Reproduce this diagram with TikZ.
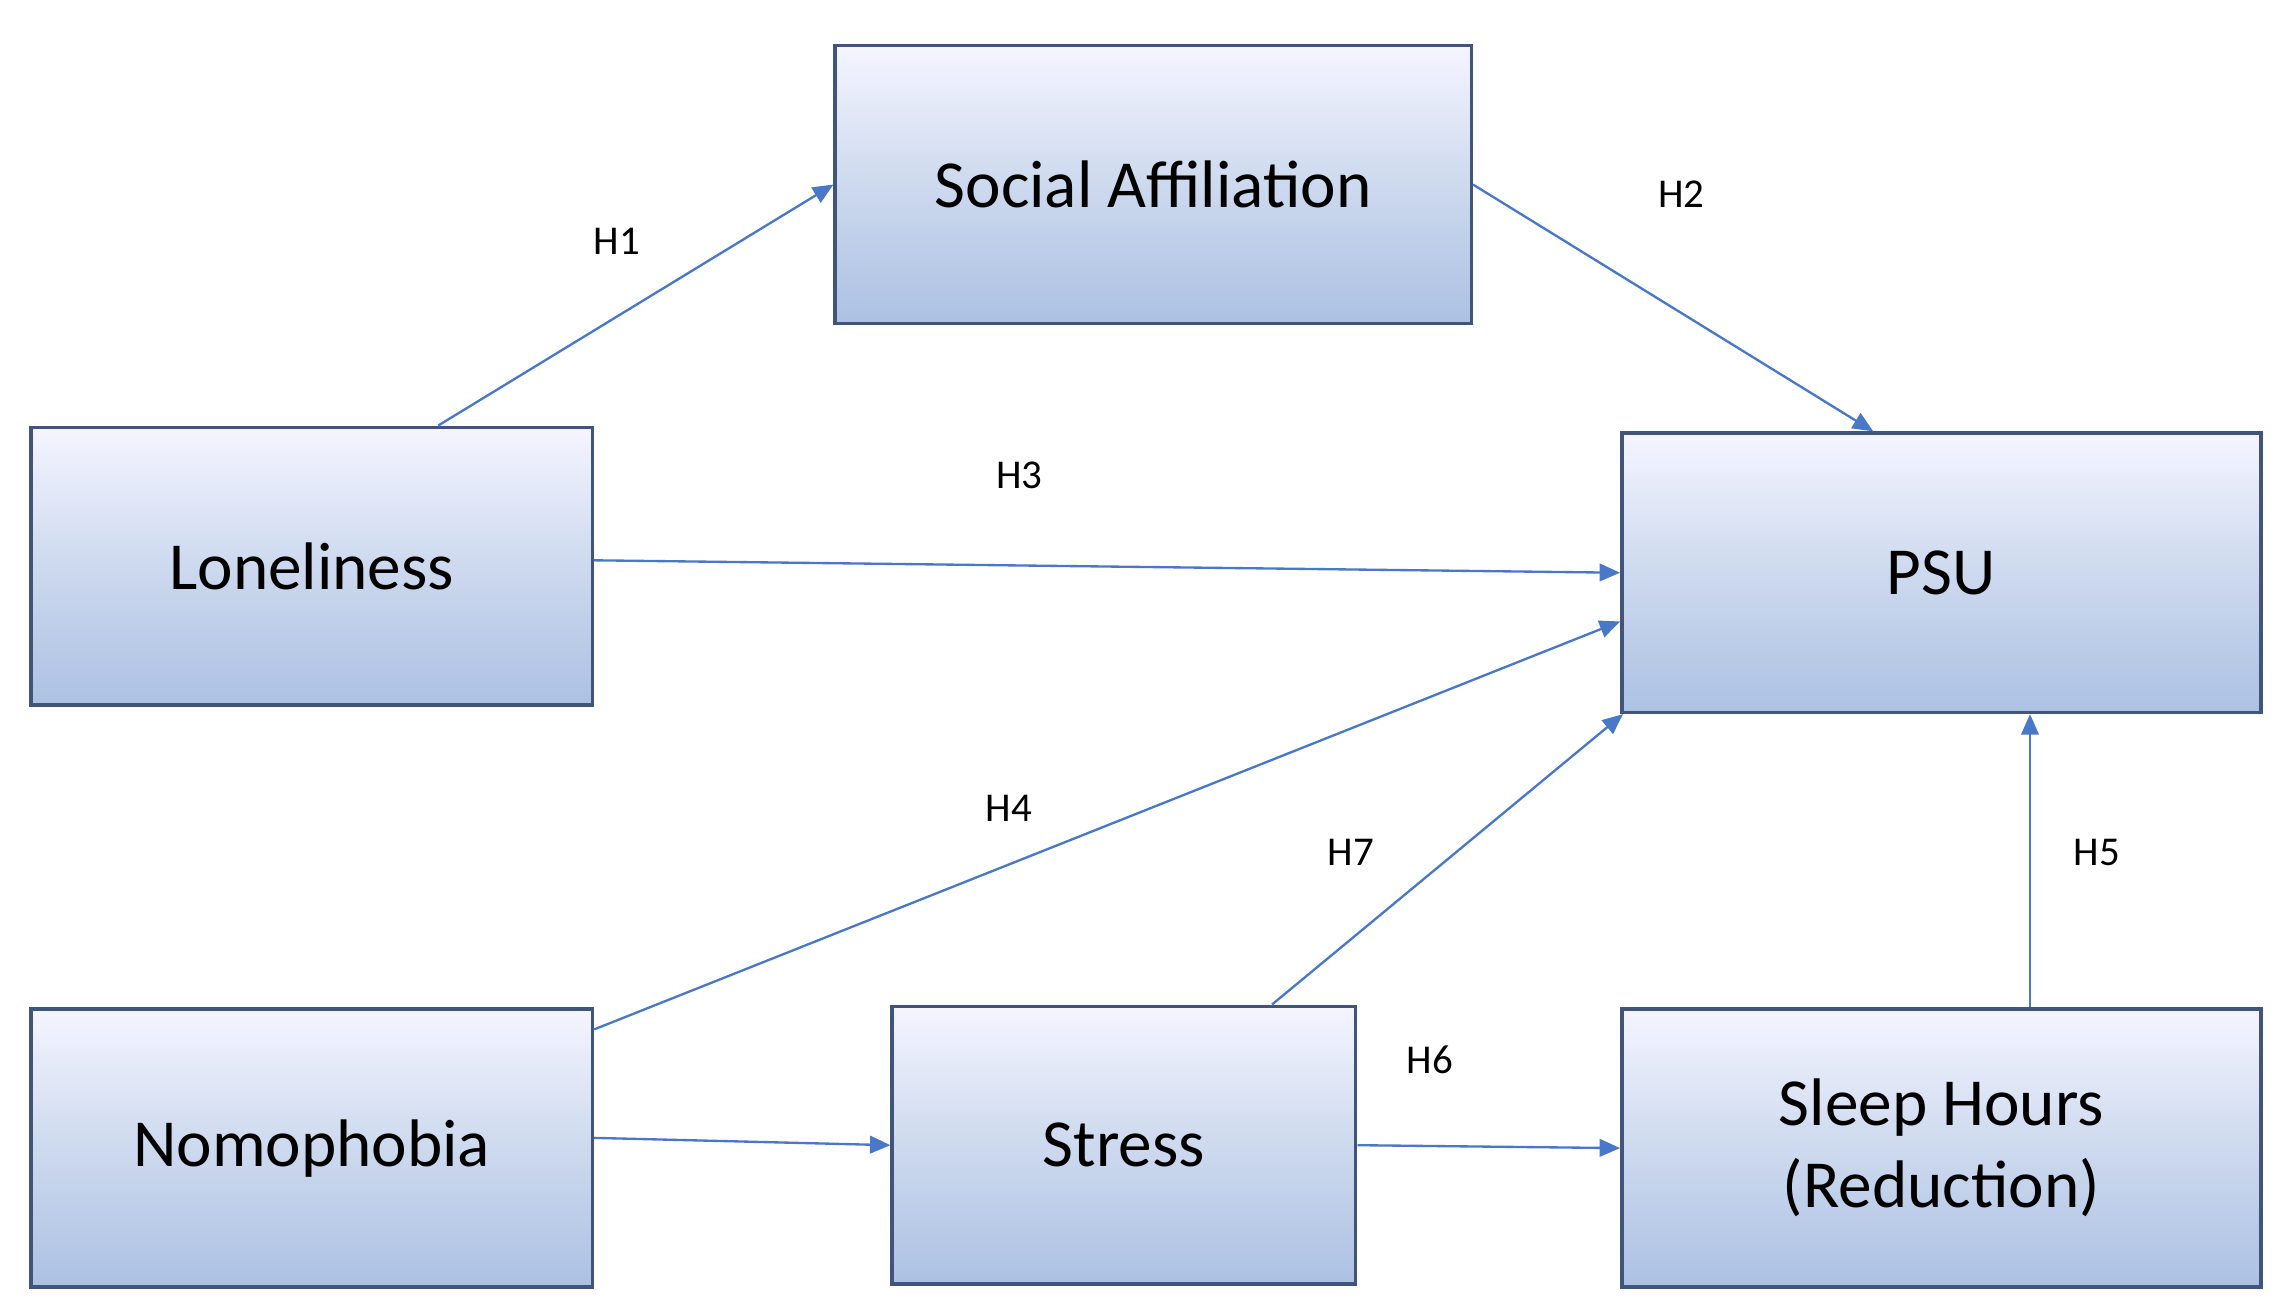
\documentclass[tikz,border=0pt]{standalone}
\usepackage{fontspec}
\setmainfont{Carlito}
\usetikzlibrary{calc,arrows.meta}
\definecolor{bord}{HTML}{41557A}
\definecolor{arr}{HTML}{4A78C8}
\tikzset{
 box/.style={draw=bord,line width=1.2pt,top color=blue!4!white,bottom color={rgb,255:red,172;green,193;blue,227},middle color={rgb,255:red,205;green,217;blue,238},inner sep=0pt,align=center,font=\fontsize{23}{28}\selectfont,anchor=north west},
 conn/.style={draw=arr,line width=0.8pt,-{Triangle[length=7pt,width=6pt]}},
 lab/.style={font=\fontsize{14}{16}\selectfont}
}
\begin{document}
\begin{tikzpicture}[x=0.5pt,y=-0.5pt]
\useasboundingbox (0,0) rectangle (1560,900);
\node[box,minimum width=217.5pt,minimum height=95pt] (sa) at (570,30) {Social Affiliation};
\node[box,minimum width=192pt,minimum height=95pt] (lon) at (20,291) {Loneliness};
\node[box,minimum width=218.5pt,minimum height=95.5pt] (psu) at (1108,295) {PSU};
\node[box,minimum width=192pt,minimum height=95pt] (nom) at (20,689) {Nomophobia};
\node[box,minimum width=158.5pt,minimum height=95pt] (st) at (609,687) {Stress};
\node[box,minimum width=218.5pt,minimum height=95pt] (sl) at (1108,689) {Sleep Hours\\(Reduction)};
\draw[conn] ($(lon.north west)!0.724!(lon.north east)$) -- (sa.west);
\draw[conn] (sa.east) -- ($(psu.north west)!0.394!(psu.north east)$);
\draw[conn] ([yshift=2pt]lon.east) -- (psu.west);
\draw[conn] ([yshift=-7.5pt]nom.north east) -- ([yshift=-65pt]psu.north west);
\draw[conn] ($(st.north west)!0.817!(st.north east)$) -- ([xshift=1pt]psu.south west);
\coordinate (h5s) at ($(sl.north west)!0.638!(sl.north east)$);
\draw[conn] (h5s) -- (h5s |- psu.south);
\draw[conn] (st.east) -- (sl.west);
\draw[conn] ([yshift=3.5pt]nom.east) -- (st.west);
\node[lab] (l1) at (422,165) {H1};
\node[lab] (l2) at (1150,133) {H2};
\node[lab] (l3) at (697,325) {H3};
\node[lab] (l4) at (690,553) {H4};
\node[lab] (l7) at (924,583) {H7};
\node[lab] (l5) at (1434,583) {H5};
\node[lab] (l6) at (978,725) {H6};
\end{tikzpicture}
\end{document}
